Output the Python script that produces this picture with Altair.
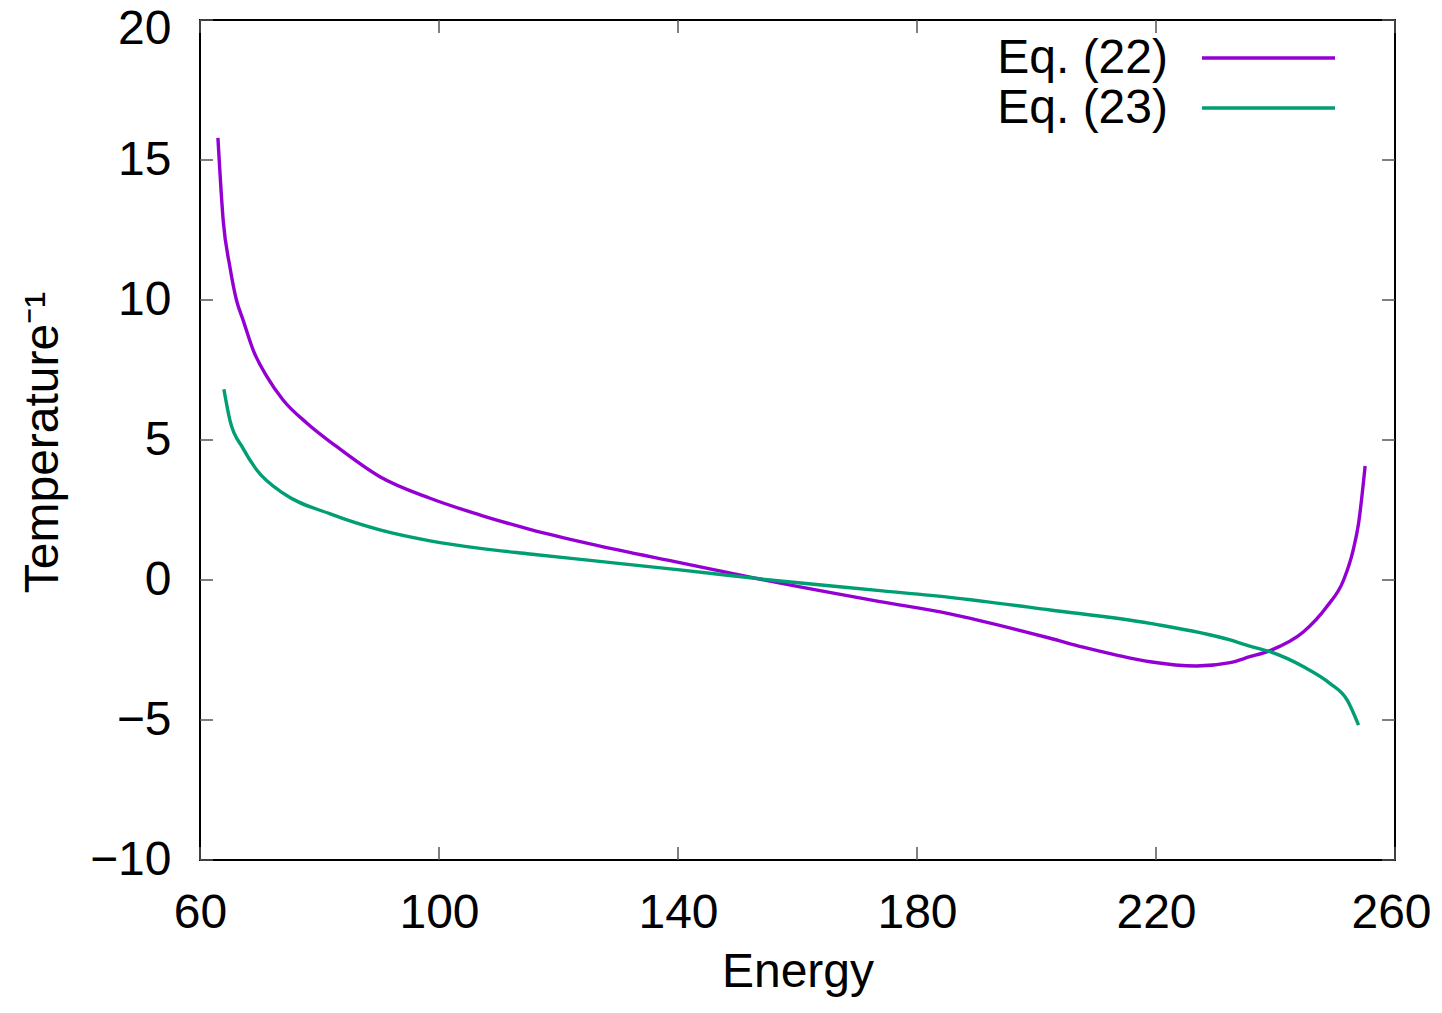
import altair as alt
import pandas as pd

# ---- data ----
energy_22 = [63.0, 63.9, 65.0, 66.1, 67.2, 68.9, 71.2, 73.9, 77.9, 82.9, 90.1, 98.5,
             106.9, 115.2, 125.3, 140.3, 155.4, 173.8, 185.5, 190.5, 202.3, 207.8,
             213.4, 219.0, 226.8, 232.4, 235.7, 239.1, 244.7, 248.6, 251.4, 253.0,
             253.9, 255.0]
temp_22 = [15.79, 12.80, 11.19, 10.00, 9.29, 8.21, 7.26, 6.43, 5.60, 4.76, 3.69, 2.92,
           2.32, 1.81, 1.29, 0.62, -0.04, -0.77, -1.21, -1.45, -2.08, -2.40,
           -2.68, -2.92, -3.07, -2.95, -2.74, -2.52, -1.85, -0.95, 0.00, 1.07,
           2.02, 4.07]

energy_23 = [64.0, 65.0, 67.2, 69.5, 73.9, 81.8, 90.1, 98.5, 106.9, 115.2, 125.3,
             140.3, 155.4, 173.8, 185.5, 202.3, 219.0, 232.4, 235.7, 239.1, 244.7,
             249.1, 252.0, 253.9]
temp_23 = [6.81, 5.71, 4.70, 3.93, 3.10, 2.36, 1.79, 1.40, 1.13, 0.93, 0.70,
           0.36, 0.00, -0.38, -0.62, -1.07, -1.55, -2.14, -2.36, -2.56, -3.10,
           -3.69, -4.29, -5.18]

series_names = ["Eq. (22)", "Eq. (23)"]
series_colors = ["#9400D3", "#009E73"]

x_ticks = [60, 100, 140, 180, 220, 260]
y_ticks = [-10, -5, 0, 5, 10, 15, 20]

df = pd.concat([
    pd.DataFrame({"energy": energy_22, "temp": temp_22, "series": series_names[0]}),
    pd.DataFrame({"energy": energy_23, "temp": temp_23, "series": series_names[1]}),
], ignore_index=True)

W, H = 1195, 840
FONT = "Liberation Sans"
FS = 48
TL = 13  # inward tick length
LW = 3.4

xscale = alt.Scale(domain=[60, 260], nice=False, zero=False)
yscale = alt.Scale(domain=[-10, 20], nice=False, zero=False)

x_axis = alt.Axis(values=x_ticks, format="d", ticks=False, domain=False, grid=False,
                  labelFontSize=FS, labelPadding=29, labelColor="black",
                  labelFlush=False, labelFont=FONT,
                  labelOffset={"condition": {"test": "datum.value == 260", "value": -4},
                               "value": 0},
                  title="Energy", titleFontSize=FS, titleFontWeight="normal",
                  titleColor="black", titleFont=FONT,
                  titleY=126, titleBaseline="alphabetic")
y_axis = alt.Axis(values=y_ticks, format="d", ticks=False, domain=False, grid=False,
                  labelFontSize=FS, labelPadding=29, labelColor="black",
                  labelFlush=False, labelFont=FONT,
                  labelOffset={"condition": {"test": "datum.value == 20", "value": 9},
                               "value": 0},
                  title="Temperature⁻¹", titleFontSize=FS, titleFontWeight="normal",
                  titleColor="black", titleFont=FONT,
                  titleAngle=270, titleX=-143, titleY=422,
                  titleBaseline="alphabetic", titleAlign="center")

lines = alt.Chart(df).mark_line(strokeWidth=LW, clip=True, interpolate="monotone").encode(
    x=alt.X("energy:Q", scale=xscale, axis=x_axis),
    y=alt.Y("temp:Q", scale=yscale, axis=y_axis),
    color=alt.Color("series:N", scale=alt.Scale(domain=series_names, range=series_colors),
                    legend=None),
)

xt = pd.DataFrame({"energy": x_ticks})
yt = pd.DataFrame({"temp": y_ticks})
tick_style = dict(color="#555555", strokeWidth=1.5)

bottom_ticks = alt.Chart(xt).mark_rule(**tick_style).encode(
    x=alt.X("energy:Q", scale=xscale, axis=x_axis), y=alt.value(H), y2=alt.value(H - TL))
top_ticks = alt.Chart(xt).mark_rule(**tick_style).encode(
    x=alt.X("energy:Q", scale=xscale, axis=x_axis), y=alt.value(0), y2=alt.value(TL))
left_ticks = alt.Chart(yt).mark_rule(**tick_style).encode(
    y=alt.Y("temp:Q", scale=yscale, axis=y_axis), x=alt.value(0), x2=alt.value(TL))
right_ticks = alt.Chart(yt).mark_rule(**tick_style).encode(
    y=alt.Y("temp:Q", scale=yscale, axis=y_axis), x=alt.value(W), x2=alt.value(W - TL))

legend_layers = []
for i, (name, col) in enumerate(zip(series_names, series_colors)):
    d = pd.DataFrame({"series": [name]})
    legend_layers.append(
        alt.Chart(d).mark_text(align="right", baseline="alphabetic", fontSize=FS,
                               font=FONT, color="black").encode(
            text="series:N", x=alt.value(968), y=alt.value(53 + 50 * i)))
    legend_layers.append(
        alt.Chart(d).mark_rule(color=col, strokeWidth=LW).encode(
            x=alt.value(1002), x2=alt.value(1135), y=alt.value(38 + 50 * i)))

chart = alt.layer(
    lines, bottom_ticks, top_ticks, left_ticks, right_ticks, *legend_layers
).properties(
    width=W, height=H,
    autosize=alt.AutoSizeParams(type="none"),
    padding={"left": 192, "top": 12, "right": 39, "bottom": 138},
).configure(
    font=FONT, background="white"
).configure_view(
    stroke="black", strokeWidth=2
)

chart.save("out.html", embed_options={"renderer": "svg", "actions": False})
